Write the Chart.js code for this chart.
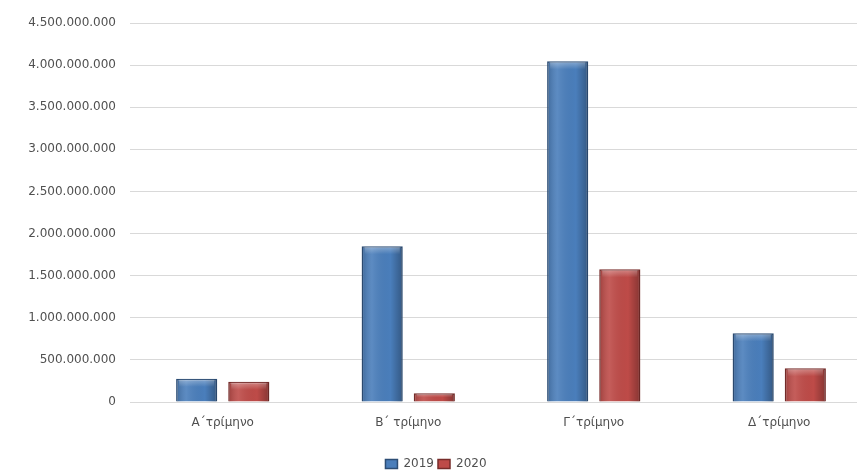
<!DOCTYPE html>
<html>
<head>
<meta charset="utf-8">
<script src="https://cdn.jsdelivr.net/npm/chart.js@4"></script>
<style>
html,body{margin:0;padding:0;background:#fff;overflow:hidden;}
#wrap{width:872px;height:471px;position:relative;}
</style>
</head>
<body>
<div id="wrap"><canvas id="c"></canvas></div>
<script>
const categories = ["Α΄τρίμηνο", "Β΄ τρίμηνο", "Γ΄τρίμηνο", "Δ΄τρίμηνο"];
const seriesNames = ["2019", "2020"];
const values2019 = [275000000, 1850000000, 4045000000, 815000000];
const values2020 = [240000000, 105000000, 1575000000, 400000000];
const yMax = 4500000000;
const yStep = 500000000;

function fmt(v){ return Math.round(v).toString().replace(/\B(?=(\d{3})+(?!\d))/g, "."); }

const shade = {
  id: 'shade',
  afterDatasetsDraw(chart){
    const ctx = chart.ctx;
    chart.data.datasets.forEach((ds, i) => {
      chart.getDatasetMeta(i).data.forEach(el => {
        const l = el.x - el.width/2, r = el.x + el.width/2;
        const t = Math.min(el.y, el.base), b = Math.max(el.y, el.base);
        const g = ctx.createLinearGradient(l, 0, r, 0);
        g.addColorStop(0, 'rgba(0,0,0,0.18)');
        g.addColorStop(0.25, 'rgba(255,255,255,0.10)');
        g.addColorStop(0.7, 'rgba(0,0,0,0.0)');
        g.addColorStop(1, 'rgba(0,0,0,0.30)');
        ctx.save();
        ctx.fillStyle = g;
        ctx.fillRect(l+1, t+1, el.width-2, b-t-1);
        const h = Math.min(8, (b-t)/2);
        const g2 = ctx.createLinearGradient(0, t, 0, t+h);
        g2.addColorStop(0, 'rgba(255,255,255,0.35)');
        g2.addColorStop(1, 'rgba(255,255,255,0)');
        ctx.fillStyle = g2;
        ctx.fillRect(l+3, t+1, el.width-6, h);
        ctx.restore();
      });
    });
  }
};

new Chart(document.getElementById('c'), {
  type: 'bar',
  data: {
    labels: categories,
    datasets: [
      { label: seriesNames[0], data: values2019, backgroundColor: '#4a7ebb', borderColor: '#2c4d75', borderWidth: 1.5 },
      { label: seriesNames[1], data: values2020, backgroundColor: '#be4b48', borderColor: '#772c2a', borderWidth: 1.5 }
    ]
  },
  options: {
    responsive: true,
    maintainAspectRatio: false,
    animation: false,
    categoryPercentage: 0.562,
    barPercentage: 0.79,
    layout: { padding: { left: 0, right: 0, top: 23, bottom: -9 } },
    plugins: {
      tooltip: { enabled: false },
      legend: {
        position: 'bottom',
        labels: {
          boxWidth: 12, boxHeight: 9, padding: 4,
          color: '#505050',
          font: { family: 'DejaVu Sans', size: 12 }
        }
      }
    },
    scales: {
      x: {
        grid: { display: false },
        border: { display: false },
        afterFit(scale){ scale.height = 52; },
        ticks: { color: '#505050', padding: 6, font: { family: 'DejaVu Sans', size: 12 } }
      },
      y: {
        min: 0, max: yMax,
        afterFit(scale){ scale.width = 130; },
        ticks: {
          stepSize: yStep,
          padding: 14,
          color: '#505050',
          font: { family: 'DejaVu Sans', size: 12 },
          callback: v => fmt(v)
        },
        grid: { color: '#d9d9d9', drawTicks: false },
        border: { display: false }
      }
    }
  },
  plugins: [shade]
});
</script>
</body>
</html>
